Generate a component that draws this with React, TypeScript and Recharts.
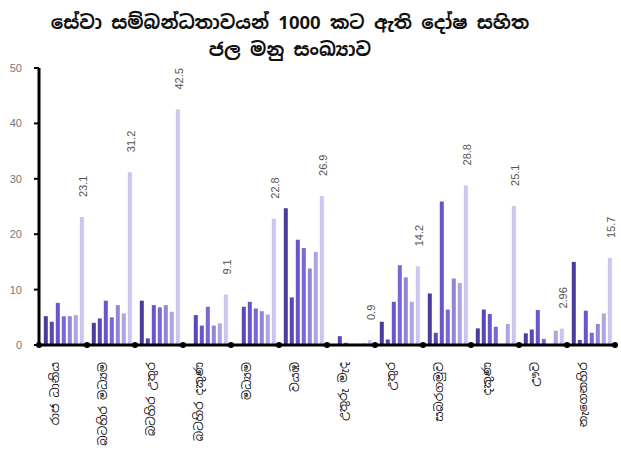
import { BarChart, Bar, XAxis, YAxis, LabelList } from 'recharts';

const categories = [
  'රාජ ධානිය',
  'බටහිර මධ්‍යම',
  'බටහිර උතුර',
  'බටහිර දකුණ',
  'මධ්‍යම',
  'වයඹ',
  'උතුරු මැද',
  'උතුර',
  'සබරගමුව',
  'දකුණ',
  'ඌව',
  'නැගෙනහිර',
];

// seven series per region, darkest first; the last one is labelled
const s1 = [5.2, 4.0, 8.0, 0, 0, 24.7, 0, 4.2, 9.3, 3.0, 2.1, 15.0];
const s2 = [4.2, 4.8, 1.2, 5.4, 6.9, 8.6, 1.6, 1.0, 2.2, 6.4, 2.8, 0.9];
const s3 = [7.6, 8.0, 7.2, 3.5, 7.8, 19.0, 0.4, 7.8, 25.9, 5.6, 6.3, 6.2];
const s4 = [5.2, 5.0, 6.8, 6.9, 6.6, 17.5, 0, 14.4, 6.4, 3.3, 1.1, 2.2];
const s5 = [5.2, 7.2, 7.2, 3.5, 6.1, 13.8, 0.2, 12.2, 12.0, 0, 0, 3.8];
const s6 = [5.4, 5.7, 6.0, 3.9, 5.5, 16.8, 0.3, 7.8, 11.2, 3.8, 2.6, 5.7];
const s7 = [23.1, 31.2, 42.5, 9.1, 22.8, 26.9, 0.9, 14.2, 28.8, 25.1, 2.96, 15.7];

const yTicks = [0, 10, 20, 30, 40, 50];

const COLORS = ['#4a3b9c', '#5a47b5', '#6a54c9', '#7b67d2', '#9384d8', '#aea4e2', '#cbc5ef'];
const SERIES = ['s1', 's2', 's3', 's4', 's5', 's6', 's7'];

const data = categories.map((name, i) => ({
  name,
  s1: s1[i],
  s2: s2[i],
  s3: s3[i],
  s4: s4[i],
  s5: s5[i],
  s6: s6[i],
  s7: s7[i],
}));

const W = 621;
const H = 459;
const MARGIN = { top: 68, right: 6, bottom: 14, left: 0 };
const Y_W = 39;
const HALF_BAND = (W - MARGIN.left - MARGIN.right - Y_W) / categories.length / 2;

const SINHALA = "'Noto Sans Sinhala', 'Iskoola Pota', 'Noto Sans', sans-serif";

const CategoryTick = (props: any) => {
  const { x, y, payload, index, visibleTicksCount } = props;
  return (
    <g>
      <circle cx={x - HALF_BAND} cy={y} r={3} fill="#000" />
      {index === visibleTicksCount - 1 && <circle cx={x + HALF_BAND} cy={y} r={3} fill="#000" />}
      <text
        transform={`translate(${x - 8},${y + 17}) rotate(-90)`}
        textAnchor="end"
        dominantBaseline="central"
        fontSize={12}
        fill="#111"
        fontFamily={SINHALA}
      >
        {payload.value}
      </text>
    </g>
  );
};

const ValueLabel = (props: any) => {
  const { x, y, width, value } = props;
  const cx = Number(x) + Number(width) / 2;
  return (
    <text
      transform={`translate(${cx + 1},${Number(y) - 20}) rotate(-90)`}
      textAnchor="start"
      dominantBaseline="central"
      fontSize={11}
      fill="#555"
      fontFamily="'Liberation Sans', Arial, sans-serif"
    >
      {value}
    </text>
  );
};

export default function App() {
  return (
    <div style={{ position: 'absolute', left: 0, top: 0, width: W, height: H, background: '#fff' }}>
      <BarChart width={W} height={H} data={data} margin={MARGIN} barCategoryGap="10%" barGap={2}>
        <XAxis
          dataKey="name"
          height={100}
          interval={0}
          tickLine={false}
          tickSize={0}
          tickMargin={0}
          axisLine={{ stroke: '#000', strokeWidth: 3 }}
          tick={<CategoryTick />}
        />
        <YAxis
          width={Y_W}
          domain={[0, 50]}
          ticks={yTicks}
          tickSize={5}
          tickMargin={12}
          axisLine={{ stroke: '#000', strokeWidth: 3 }}
          tickLine={{ stroke: '#000', strokeWidth: 2 }}
          tick={{ fill: '#777', fontSize: 11, fontFamily: "'Liberation Sans', Arial, sans-serif" }}
        />
        {SERIES.map((key, i) => (
          <Bar key={key} dataKey={key} fill={COLORS[i]} isAnimationActive={false}>
            {key === 's7' && <LabelList dataKey="s7" content={<ValueLabel />} />}
          </Bar>
        ))}
      </BarChart>
      <div
        style={{
          position: 'absolute',
          left: 0,
          top: 9,
          width: 580,
          textAlign: 'center',
          fontWeight: 700,
          fontSize: 18.5,
          lineHeight: '27px',
          fontFamily: SINHALA,
          color: '#111',
        }}
      >
        <div>සේවා සම්බන්ධතාවයන් 1000 කට ඇති දෝෂ සහිත</div>
        <div>ජල මනු සංඛ්‍යාව</div>
      </div>
    </div>
  );
}
